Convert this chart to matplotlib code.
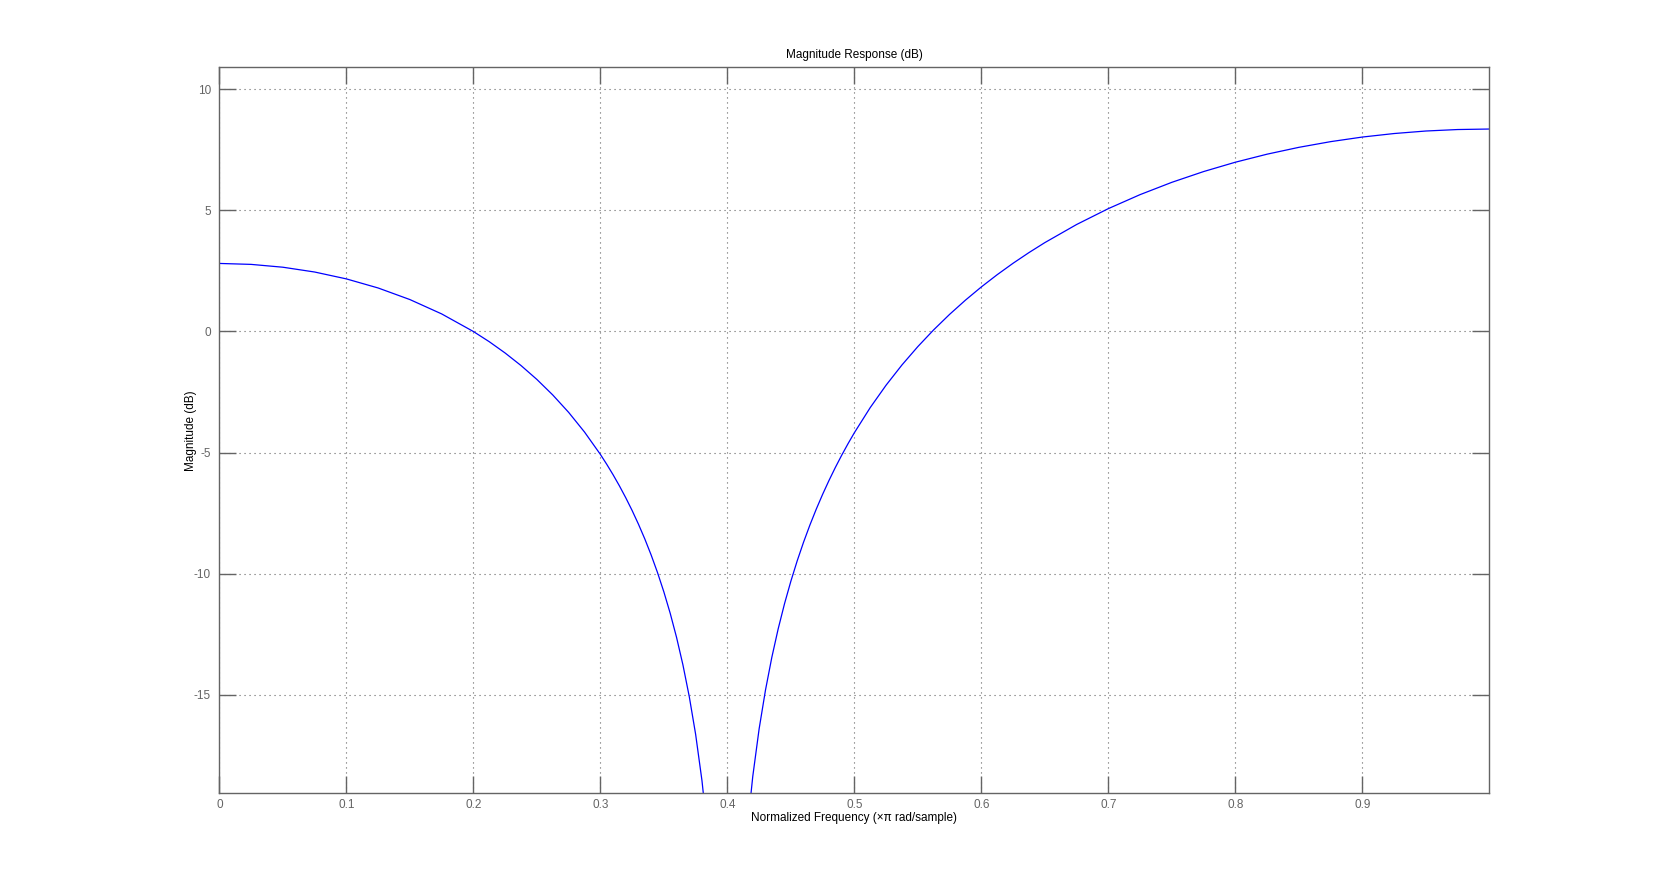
import matplotlib
matplotlib.use("Agg")
import matplotlib.pyplot as plt

# values (normalized freq, magnitude in dB)
freq = [0.0, 0.025, 0.05, 0.075, 0.1, 0.125, 0.15, 0.175, 0.2, 0.2125, 0.225,
        0.2375, 0.25, 0.2625, 0.275, 0.2875, 0.3, 0.305, 0.31, 0.315, 0.32,
        0.325, 0.33, 0.335, 0.34, 0.345, 0.35, 0.355, 0.36, 0.365, 0.37,
        0.375, 0.38, 0.385, 0.39, 0.395, 0.4, 0.405, 0.41, 0.415, 0.42,
        0.425, 0.43, 0.435, 0.44, 0.445, 0.45, 0.455, 0.46, 0.465, 0.47,
        0.475, 0.48, 0.485, 0.49, 0.495, 0.5, 0.5125, 0.525, 0.5375, 0.55,
        0.5625, 0.575, 0.5875, 0.6, 0.6125, 0.625, 0.6375, 0.65, 0.675, 0.7,
        0.725, 0.75, 0.775, 0.8, 0.825, 0.85, 0.875, 0.9, 0.925, 0.95, 0.975,
        1.0]
mag_db = [2.81, 2.771, 2.654, 2.456, 2.172, 1.797, 1.319, 0.727, 0.0, -0.421,
          -0.888, -1.405, -1.979, -2.62, -3.338, -4.15, -5.074, -5.482,
          -5.914, -6.374, -6.866, -7.391, -7.957, -8.567, -9.231, -9.955,
          -10.753, -11.638, -12.633, -13.764, -15.075, -16.63, -18.545,
          -21.02, -24.51, -30.5, -60.0, -30.5, -24.44, -20.89, -18.37,
          -16.41, -14.81, -13.455, -12.28, -11.24, -10.31, -9.467, -8.698,
          -7.99, -7.334, -6.724, -6.153, -5.617, -5.111, -4.633, -4.18,
          -3.141, -2.215, -1.38, -0.622, 0.071, 0.708, 1.296, 1.841, 2.347,
          2.819, 3.259, 3.671, 4.418, 5.074, 5.652, 6.16, 6.604, 6.99, 7.322,
          7.604, 7.839, 8.029, 8.174, 8.278, 8.339, 8.36]

xticks = [0, 0.1, 0.2, 0.3, 0.4, 0.5, 0.6, 0.7, 0.8, 0.9]
xticklabels = ['0', '0.1', '0.2', '0.3', '0.4', '0.5', '0.6', '0.7', '0.8', '0.9']
yticks = [-15, -10, -5, 0, 5, 10]

plt.rcParams['font.family'] = ['Liberation Sans', 'DejaVu Sans']
plt.rcParams['axes.unicode_minus'] = False
gray = '#646464'

fig = plt.figure(figsize=(16.81, 8.91), dpi=100)
ax = fig.add_axes([0.1305, 0.1096, 0.7555, 0.8149])

ax.plot(freq, mag_db, color='#0000ff', linewidth=0.9)

ax.set_xlim(0, 1.0)
ax.set_ylim(-19.07, 10.91)
ax.set_xticks(xticks)
ax.set_xticklabels(xticklabels)
ax.set_yticks(yticks)

ax.grid(True, color=gray, linestyle=(0, (1, 3.5)), linewidth=0.8)
ax.tick_params(direction='in', length=12, width=1, color=gray, labelcolor=gray,
               labelsize=8.5, top=True, right=True)
ax.tick_params(axis='x', pad=4)
ax.tick_params(axis='y', pad=6)
for s in ax.spines.values():
    s.set_color(gray)
    s.set_linewidth(1)

ax.set_title('Magnitude Response (dB)', fontsize=8.5, pad=7)
ax.set_xlabel('Normalized Frequency (\u00d7\u03c0 rad/sample)', fontsize=8.5, labelpad=1)
ax.set_ylabel('Magnitude (dB)', fontsize=8.5, labelpad=-2)

fig.savefig('out.png', dpi=100)
